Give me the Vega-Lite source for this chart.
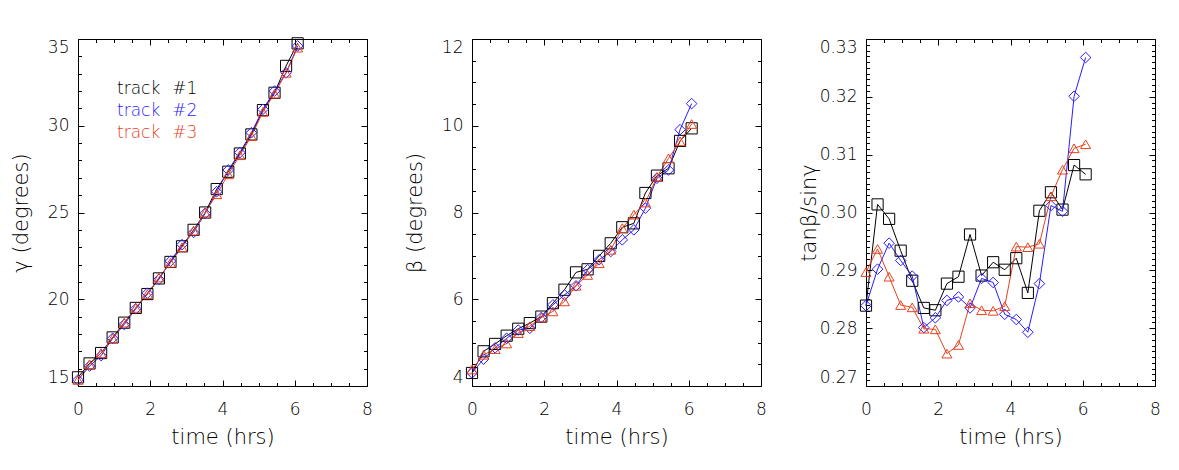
{
  "$schema": "https://vega.github.io/schema/vega-lite/v6.json",
  "background": "white",
  "autosize": {"type": "pad"},
  "padding": {"left": 10, "top": 35, "right": 5, "bottom": 5},
  "data": {
    "values": [
      {"t": 0, "track": "track #1", "gamma": 15.5, "beta": 4.3, "ratio": 0.2839},
      {"t": 0.32, "track": "track #1", "gamma": 16.3, "beta": 4.8, "ratio": 0.3014},
      {"t": 0.64, "track": "track #1", "gamma": 16.9, "beta": 4.97, "ratio": 0.2989},
      {"t": 0.96, "track": "track #1", "gamma": 17.8, "beta": 5.16, "ratio": 0.2934},
      {"t": 1.28, "track": "track #1", "gamma": 18.65, "beta": 5.32, "ratio": 0.2882},
      {"t": 1.6, "track": "track #1", "gamma": 19.5, "beta": 5.45, "ratio": 0.2835},
      {"t": 1.92, "track": "track #1", "gamma": 20.3, "beta": 5.6, "ratio": 0.2831},
      {"t": 2.24, "track": "track #1", "gamma": 21.2, "beta": 5.91, "ratio": 0.2877},
      {"t": 2.56, "track": "track #1", "gamma": 22.15, "beta": 6.22, "ratio": 0.2889},
      {"t": 2.88, "track": "track #1", "gamma": 23.05, "beta": 6.62, "ratio": 0.2962},
      {"t": 3.2, "track": "track #1", "gamma": 24.0, "beta": 6.69, "ratio": 0.2891},
      {"t": 3.52, "track": "track #1", "gamma": 25.0, "beta": 7.0, "ratio": 0.2914},
      {"t": 3.84, "track": "track #1", "gamma": 26.35, "beta": 7.29, "ratio": 0.2901},
      {"t": 4.16, "track": "track #1", "gamma": 27.35, "beta": 7.66, "ratio": 0.2921},
      {"t": 4.48, "track": "track #1", "gamma": 28.4, "beta": 7.75, "ratio": 0.2861},
      {"t": 4.8, "track": "track #1", "gamma": 29.5, "beta": 8.45, "ratio": 0.3003},
      {"t": 5.12, "track": "track #1", "gamma": 30.9, "beta": 8.85, "ratio": 0.3035},
      {"t": 5.44, "track": "track #1", "gamma": 31.9, "beta": 9.02, "ratio": 0.3005},
      {"t": 5.76, "track": "track #1", "gamma": 33.45, "beta": 9.65, "ratio": 0.3082},
      {"t": 6.08, "track": "track #1", "gamma": 34.75, "beta": 9.94, "ratio": 0.3066},
      {"t": 0, "track": "track #2", "gamma": 15.35, "beta": 4.3, "ratio": 0.2839},
      {"t": 0.32, "track": "track #2", "gamma": 16.15, "beta": 4.62, "ratio": 0.2902},
      {"t": 0.64, "track": "track #2", "gamma": 16.75, "beta": 4.88, "ratio": 0.2947},
      {"t": 0.96, "track": "track #2", "gamma": 17.75, "beta": 5.1, "ratio": 0.2917},
      {"t": 1.28, "track": "track #2", "gamma": 18.55, "beta": 5.29, "ratio": 0.289},
      {"t": 1.6, "track": "track #2", "gamma": 19.45, "beta": 5.33, "ratio": 0.2801},
      {"t": 1.92, "track": "track #2", "gamma": 20.35, "beta": 5.58, "ratio": 0.2818},
      {"t": 2.24, "track": "track #2", "gamma": 21.15, "beta": 5.87, "ratio": 0.2848},
      {"t": 2.56, "track": "track #2", "gamma": 22.2, "beta": 6.1, "ratio": 0.2854},
      {"t": 2.88, "track": "track #2", "gamma": 23.15, "beta": 6.31, "ratio": 0.2835},
      {"t": 3.2, "track": "track #2", "gamma": 23.85, "beta": 6.68, "ratio": 0.2886},
      {"t": 3.52, "track": "track #2", "gamma": 24.95, "beta": 6.91, "ratio": 0.2879},
      {"t": 3.84, "track": "track #2", "gamma": 26.2, "beta": 7.1, "ratio": 0.2824},
      {"t": 4.16, "track": "track #2", "gamma": 27.45, "beta": 7.37, "ratio": 0.2815},
      {"t": 4.48, "track": "track #2", "gamma": 28.45, "beta": 7.6, "ratio": 0.2793},
      {"t": 4.8, "track": "track #2", "gamma": 29.6, "beta": 8.1, "ratio": 0.2877},
      {"t": 5.12, "track": "track #2", "gamma": 30.95, "beta": 8.79, "ratio": 0.3012},
      {"t": 5.44, "track": "track #2", "gamma": 32.0, "beta": 8.98, "ratio": 0.3002},
      {"t": 5.76, "track": "track #2", "gamma": 33.05, "beta": 9.91, "ratio": 0.3201},
      {"t": 6.08, "track": "track #2", "gamma": 34.6, "beta": 10.51, "ratio": 0.3268},
      {"t": 0, "track": "track #3", "gamma": 15.35, "beta": 4.38, "ratio": 0.2897},
      {"t": 0.32, "track": "track #3", "gamma": 16.25, "beta": 4.72, "ratio": 0.2937},
      {"t": 0.64, "track": "track #3", "gamma": 16.9, "beta": 4.85, "ratio": 0.2889},
      {"t": 0.96, "track": "track #3", "gamma": 17.75, "beta": 4.98, "ratio": 0.284},
      {"t": 1.28, "track": "track #3", "gamma": 18.65, "beta": 5.22, "ratio": 0.2836},
      {"t": 1.6, "track": "track #3", "gamma": 19.5, "beta": 5.38, "ratio": 0.2799},
      {"t": 1.92, "track": "track #3", "gamma": 20.3, "beta": 5.58, "ratio": 0.2798},
      {"t": 2.24, "track": "track #3", "gamma": 21.25, "beta": 5.72, "ratio": 0.2756},
      {"t": 2.56, "track": "track #3", "gamma": 22.1, "beta": 5.95, "ratio": 0.2771},
      {"t": 2.88, "track": "track #3", "gamma": 23.0, "beta": 6.31, "ratio": 0.2843},
      {"t": 3.2, "track": "track #3", "gamma": 23.95, "beta": 6.56, "ratio": 0.2831},
      {"t": 3.52, "track": "track #3", "gamma": 25.0, "beta": 6.83, "ratio": 0.283},
      {"t": 3.84, "track": "track #3", "gamma": 26.05, "beta": 7.14, "ratio": 0.2838},
      {"t": 4.16, "track": "track #3", "gamma": 27.2, "beta": 7.64, "ratio": 0.2941},
      {"t": 4.48, "track": "track #3", "gamma": 28.3, "beta": 7.95, "ratio": 0.294},
      {"t": 4.8, "track": "track #3", "gamma": 29.4, "beta": 8.23, "ratio": 0.2946},
      {"t": 5.12, "track": "track #3", "gamma": 30.8, "beta": 8.82, "ratio": 0.3028},
      {"t": 5.44, "track": "track #3", "gamma": 31.85, "beta": 9.25, "ratio": 0.3074},
      {"t": 5.76, "track": "track #3", "gamma": 33.05, "beta": 9.64, "ratio": 0.3111},
      {"t": 6.08, "track": "track #3", "gamma": 34.5, "beta": 10.04, "ratio": 0.3118}
    ]
  },
  "bounds": "flush",
  "spacing": 105,
  "resolve": {"legend": {"color": "independent", "shape": "independent", "size": "independent"}},
  "hconcat": [
    {
      "width": 289,
      "height": 347,
      "layer": [
        {
          "mark": {"type": "line", "strokeWidth": 1},
          "encoding": {
            "x": {"field": "t", "type": "quantitative", "scale": {"domain": [0, 8], "nice": false, "zero": false},
              "axis": {"orient": "bottom", "values": [0, 2, 4, 6, 8], "tickSize": -6, "labelPadding": 21, "labelFlush": false, "title": "time (hrs)", "titleY": 51, "titleBaseline": "middle"}},
            "y": {"field": "gamma", "type": "quantitative", "scale": {"domain": [15, 35], "nice": false, "zero": false},
              "axis": {"orient": "left", "values": [15, 20, 25, 30, 35], "tickSize": -6, "labelPadding": 15, "labelFlush": true, "title": "γ (degrees)", "titleX": -57, "titleBaseline": "middle"}},
            "color": {"field": "track", "type": "nominal",
              "scale": {"domain": ["track #1", "track #2", "track #3"], "range": ["#000000", "#2b1bff", "#e8401c"]},
              "legend": {"orient": "none", "legendX": 22, "legendY": 41, "title": null, "padding": 0, "symbolSize": 0, "symbolStrokeWidth": 0, "symbolOpacity": 0, "labelOffset": 0, "rowPadding": 4, "labelFontSize": 17, "labelFont": "DejaVu Sans", "labelFontWeight": 200,
                "labelExpr": "replace(datum.label, ' ', '\u2002\u2009')",
                "encode": {"labels": {"update": {"fill": {"scale": "color", "field": "value"}}}}}}
          }
        },
        {
          "mark": {"type": "point", "filled": false, "strokeWidth": 1, "opacity": 1},
          "encoding": {
            "x": {"field": "t", "type": "quantitative", "scale": {"domain": [0, 8], "nice": false, "zero": false},
              "axis": {"orient": "bottom", "values": [0.5, 1, 1.5, 2.5, 3, 3.5, 4.5, 5, 5.5, 6.5, 7, 7.5], "tickSize": -3.5, "labels": false, "domain": false, "title": null}},
            "y": {"field": "gamma", "type": "quantitative", "scale": {"domain": [15, 35], "nice": false, "zero": false},
              "axis": {"orient": "left", "values": [16, 17, 18, 19, 21, 22, 23, 24, 26, 27, 28, 29, 31, 32, 33, 34], "tickSize": -3.5, "labels": false, "domain": false, "title": null}},
            "color": {"field": "track", "type": "nominal", "legend": null},
            "shape": {"field": "track", "type": "nominal", "scale": {"domain": ["track #1", "track #2", "track #3"], "range": ["square", "diamond", "triangle-up"]}, "legend": null},
            "size": {"field": "track", "type": "ordinal", "scale": {"domain": ["track #1", "track #2", "track #3"], "range": [125, 100, 121]}, "legend": null}
          }
        },
        {
          "mark": {"type": "point", "opacity": 0},
          "encoding": {
            "x": {"field": "t", "type": "quantitative", "scale": {"domain": [0, 8], "nice": false, "zero": false},
              "axis": {"orient": "top", "values": [0, 2, 4, 6, 8], "tickSize": -6, "labels": false, "title": null}},
            "y": {"field": "gamma", "type": "quantitative", "scale": {"domain": [15, 35], "nice": false, "zero": false},
              "axis": {"orient": "right", "values": [15, 20, 25, 30, 35], "tickSize": -6, "labels": false, "title": null}}
          }
        },
        {
          "mark": {"type": "point", "opacity": 0},
          "encoding": {
            "x": {"field": "t", "type": "quantitative", "scale": {"domain": [0, 8], "nice": false, "zero": false},
              "axis": {"orient": "top", "values": [0.5, 1, 1.5, 2.5, 3, 3.5, 4.5, 5, 5.5, 6.5, 7, 7.5], "tickSize": -3.5, "labels": false, "domain": false, "title": null}},
            "y": {"field": "gamma", "type": "quantitative", "scale": {"domain": [15, 35], "nice": false, "zero": false},
              "axis": {"orient": "right", "values": [16, 17, 18, 19, 21, 22, 23, 24, 26, 27, 28, 29, 31, 32, 33, 34], "tickSize": -3.5, "labels": false, "domain": false, "title": null}}
          }
        }
      ],
      "resolve": {"axis": {"x": "independent", "y": "independent"}}
    },
    {
      "width": 289,
      "height": 347,
      "layer": [
        {
          "mark": {"type": "line", "strokeWidth": 1},
          "encoding": {
            "x": {"field": "t", "type": "quantitative", "scale": {"domain": [0, 8], "nice": false, "zero": false},
              "axis": {"orient": "bottom", "values": [0, 2, 4, 6, 8], "tickSize": -6, "labelPadding": 21, "labelFlush": false, "title": "time (hrs)", "titleY": 51, "titleBaseline": "middle"}},
            "y": {"field": "beta", "type": "quantitative", "scale": {"domain": [4, 12], "nice": false, "zero": false},
              "axis": {"orient": "left", "values": [4, 6, 8, 10, 12], "tickSize": -6, "labelPadding": 15, "labelFlush": true, "title": "β (degrees)", "titleX": -57, "titleBaseline": "middle"}},
            "color": {"field": "track", "type": "nominal", "legend": null}
          }
        },
        {
          "mark": {"type": "point", "filled": false, "strokeWidth": 1, "opacity": 1},
          "encoding": {
            "x": {"field": "t", "type": "quantitative", "scale": {"domain": [0, 8], "nice": false, "zero": false},
              "axis": {"orient": "bottom", "values": [0.5, 1, 1.5, 2.5, 3, 3.5, 4.5, 5, 5.5, 6.5, 7, 7.5], "tickSize": -3.5, "labels": false, "domain": false, "title": null}},
            "y": {"field": "beta", "type": "quantitative", "scale": {"domain": [4, 12], "nice": false, "zero": false},
              "axis": {"orient": "left", "values": [4.5, 5, 5.5, 6.5, 7, 7.5, 8.5, 9, 9.5, 10.5, 11, 11.5], "tickSize": -3.5, "labels": false, "domain": false, "title": null}},
            "color": {"field": "track", "type": "nominal", "legend": null},
            "shape": {"field": "track", "type": "nominal", "legend": null},
            "size": {"field": "track", "type": "ordinal", "legend": null}
          }
        },
        {
          "mark": {"type": "point", "opacity": 0},
          "encoding": {
            "x": {"field": "t", "type": "quantitative", "scale": {"domain": [0, 8], "nice": false, "zero": false},
              "axis": {"orient": "top", "values": [0, 2, 4, 6, 8], "tickSize": -6, "labels": false, "title": null}},
            "y": {"field": "beta", "type": "quantitative", "scale": {"domain": [4, 12], "nice": false, "zero": false},
              "axis": {"orient": "right", "values": [4, 6, 8, 10, 12], "tickSize": -6, "labels": false, "title": null}}
          }
        },
        {
          "mark": {"type": "point", "opacity": 0},
          "encoding": {
            "x": {"field": "t", "type": "quantitative", "scale": {"domain": [0, 8], "nice": false, "zero": false},
              "axis": {"orient": "top", "values": [0.5, 1, 1.5, 2.5, 3, 3.5, 4.5, 5, 5.5, 6.5, 7, 7.5], "tickSize": -3.5, "labels": false, "domain": false, "title": null}},
            "y": {"field": "beta", "type": "quantitative", "scale": {"domain": [4, 12], "nice": false, "zero": false},
              "axis": {"orient": "right", "values": [4.5, 5, 5.5, 6.5, 7, 7.5, 8.5, 9, 9.5, 10.5, 11, 11.5], "tickSize": -3.5, "labels": false, "domain": false, "title": null}}
          }
        }
      ],
      "resolve": {"axis": {"x": "independent", "y": "independent"}}
    },
    {
      "width": 289,
      "height": 347,
      "layer": [
        {
          "mark": {"type": "line", "strokeWidth": 1},
          "encoding": {
            "x": {"field": "t", "type": "quantitative", "scale": {"domain": [0, 8], "nice": false, "zero": false},
              "axis": {"orient": "bottom", "values": [0, 2, 4, 6, 8], "tickSize": -6, "labelPadding": 21, "labelFlush": false, "title": "time (hrs)", "titleY": 51, "titleBaseline": "middle"}},
            "y": {"field": "ratio", "type": "quantitative", "scale": {"domain": [0.27, 0.33], "nice": false, "zero": false},
              "axis": {"orient": "left", "values": [0.27, 0.28, 0.29, 0.30, 0.31, 0.32, 0.33], "format": ".2f", "tickSize": -6, "labelPadding": 15, "labelFlush": true, "title": "tanβ/sinγ", "titleX": -57, "titleBaseline": "middle"}},
            "color": {"field": "track", "type": "nominal", "legend": null}
          }
        },
        {
          "mark": {"type": "point", "filled": false, "strokeWidth": 1, "opacity": 1},
          "encoding": {
            "x": {"field": "t", "type": "quantitative", "scale": {"domain": [0, 8], "nice": false, "zero": false},
              "axis": {"orient": "bottom", "values": [0.5, 1, 1.5, 2.5, 3, 3.5, 4.5, 5, 5.5, 6.5, 7, 7.5], "tickSize": -3.5, "labels": false, "domain": false, "title": null}},
            "y": {"field": "ratio", "type": "quantitative", "scale": {"domain": [0.27, 0.33], "nice": false, "zero": false},
              "axis": {"orient": "left", "values": [0.271, 0.272, 0.273, 0.274, 0.275, 0.276, 0.277, 0.278, 0.279, 0.281, 0.282, 0.283, 0.284, 0.285, 0.286, 0.287, 0.288, 0.289, 0.291, 0.292, 0.293, 0.294, 0.295, 0.296, 0.297, 0.298, 0.299, 0.301, 0.302, 0.303, 0.304, 0.305, 0.306, 0.307, 0.308, 0.309, 0.311, 0.312, 0.313, 0.314, 0.315, 0.316, 0.317, 0.318, 0.319, 0.321, 0.322, 0.323, 0.324, 0.325, 0.326, 0.327, 0.328, 0.329], "tickSize": -3.5, "labels": false, "domain": false, "title": null}},
            "color": {"field": "track", "type": "nominal", "legend": null},
            "shape": {"field": "track", "type": "nominal", "legend": null},
            "size": {"field": "track", "type": "ordinal", "legend": null}
          }
        },
        {
          "mark": {"type": "point", "opacity": 0},
          "encoding": {
            "x": {"field": "t", "type": "quantitative", "scale": {"domain": [0, 8], "nice": false, "zero": false},
              "axis": {"orient": "top", "values": [0, 2, 4, 6, 8], "tickSize": -6, "labels": false, "title": null}},
            "y": {"field": "ratio", "type": "quantitative", "scale": {"domain": [0.27, 0.33], "nice": false, "zero": false},
              "axis": {"orient": "right", "values": [0.27, 0.28, 0.29, 0.30, 0.31, 0.32, 0.33], "tickSize": -6, "labels": false, "title": null}}
          }
        },
        {
          "mark": {"type": "point", "opacity": 0},
          "encoding": {
            "x": {"field": "t", "type": "quantitative", "scale": {"domain": [0, 8], "nice": false, "zero": false},
              "axis": {"orient": "top", "values": [0.5, 1, 1.5, 2.5, 3, 3.5, 4.5, 5, 5.5, 6.5, 7, 7.5], "tickSize": -3.5, "labels": false, "domain": false, "title": null}},
            "y": {"field": "ratio", "type": "quantitative", "scale": {"domain": [0.27, 0.33], "nice": false, "zero": false},
              "axis": {"orient": "right", "values": [0.271, 0.272, 0.273, 0.274, 0.275, 0.276, 0.277, 0.278, 0.279, 0.281, 0.282, 0.283, 0.284, 0.285, 0.286, 0.287, 0.288, 0.289, 0.291, 0.292, 0.293, 0.294, 0.295, 0.296, 0.297, 0.298, 0.299, 0.301, 0.302, 0.303, 0.304, 0.305, 0.306, 0.307, 0.308, 0.309, 0.311, 0.312, 0.313, 0.314, 0.315, 0.316, 0.317, 0.318, 0.319, 0.321, 0.322, 0.323, 0.324, 0.325, 0.326, 0.327, 0.328, 0.329], "tickSize": -3.5, "labels": false, "domain": false, "title": null}}
          }
        }
      ],
      "resolve": {"axis": {"x": "independent", "y": "independent"}}
    }
  ],
  "config": {
    "font": "DejaVu Sans",
    "view": {"stroke": null},
    "axis": {
      "grid": false,
      "domainColor": "#000000",
      "domainWidth": 1,
      "tickColor": "#000000",
      "tickWidth": 1,
      "labelColor": "#000000",
      "labelFont": "DejaVu Sans",
      "labelFontSize": 17,
      "labelFontWeight": 200,
      "labelOverlap": false,
      "labelBound": false,
      "titleColor": "#000000",
      "titleFont": "DejaVu Sans",
      "titleFontSize": 21,
      "titleFontWeight": 200
    }
  }
}
